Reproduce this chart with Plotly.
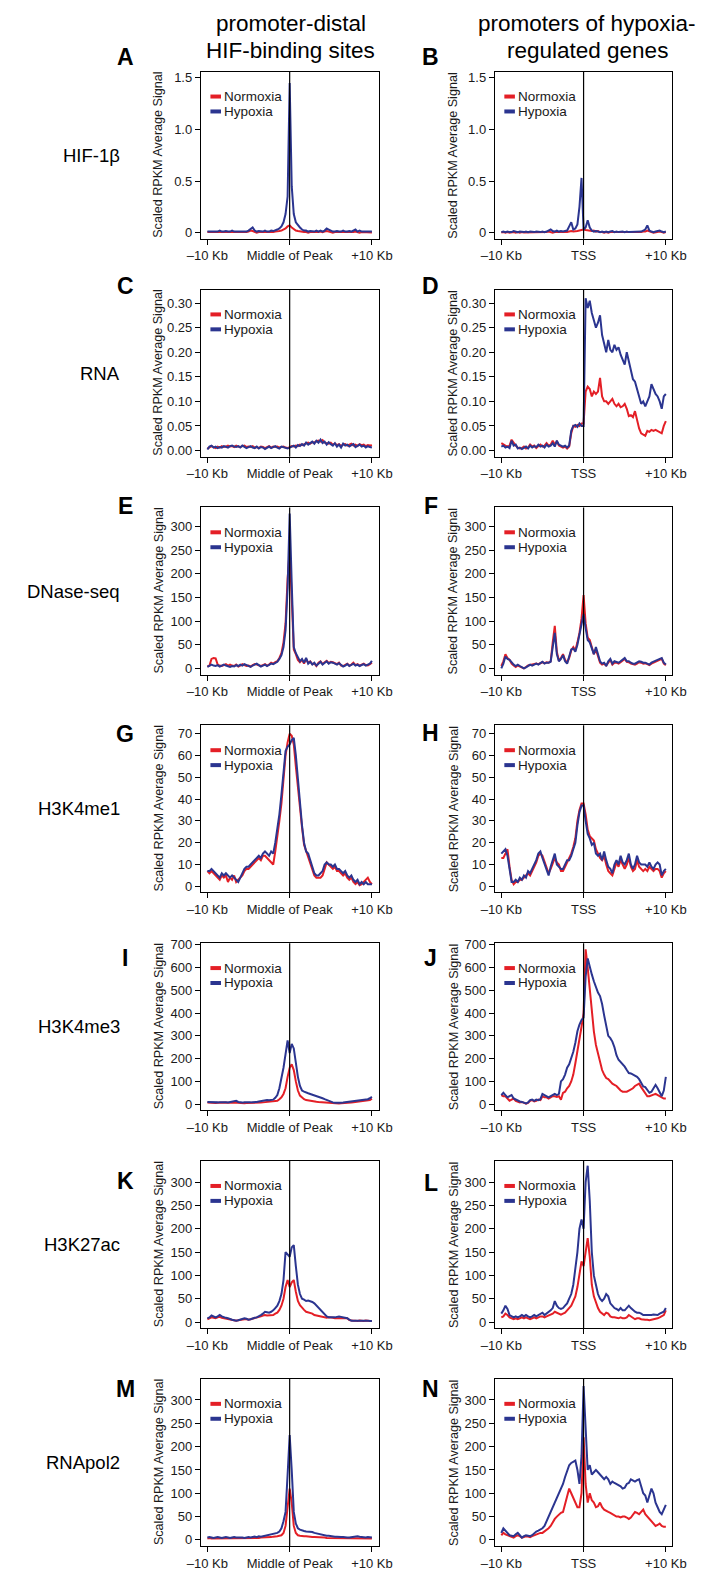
import plotly.graph_objects as go

# ---------------- data ----------------
X_KB = [-10 + 0.25 * i for i in range(81)]  # bin centres (Kb from centre)

A_NOR = [0.005,0.005,0.0,0.005,0.005,0.0,0.005,0.005,0.0,0.005,
         0.005,0.0,0.005,0.005,0.0,0.005,0.005,0.0,0.005,0.005,
         0.01,0.02,0.015,0.005,0.0,0.005,0.005,0.0,0.005,0.005,
         0.0,0.005,0.005,0.01,0.01,0.015,0.02,0.03,0.04,0.06,
         0.07,
         0.05,0.03,0.02,0.015,0.01,0.01,0.005,0.005,0.0,0.005,
         0.005,0.0,0.005,0.005,0.01,0.005,0.01,0.015,0.01,0.005,
         0.0,0.005,0.005,0.0,0.005,0.005,0.0,0.005,0.005,0.0,
         0.005,0.01,0.005,0.0,0.005,0.005,0.0,0.005,0.005,0.0]
A_HYP = [0.01,0.01,0.01,0.015,0.01,0.01,0.02,0.01,0.01,0.015,
         0.01,0.01,0.02,0.01,0.01,0.01,0.015,0.01,0.01,0.01,
         0.02,0.04,0.05,0.02,0.01,0.015,0.01,0.01,0.02,0.01,
         0.01,0.02,0.015,0.02,0.03,0.04,0.06,0.1,0.18,0.35,
         1.45,
         0.45,0.18,0.1,0.07,0.05,0.03,0.02,0.02,0.01,0.015,
         0.01,0.01,0.02,0.01,0.02,0.01,0.02,0.04,0.03,0.02,
         0.01,0.01,0.015,0.01,0.01,0.02,0.01,0.01,0.015,0.01,
         0.02,0.03,0.01,0.02,0.01,0.01,0.015,0.01,0.01,0.01]

B_NOR = [0.0,0.005,0.0,0.005,0.0,0.005,0.005,0.0,0.005,0.0,
         0.005,0.0,0.0,0.005,0.005,0.0,0.005,0.0,0.0,0.005,
         0.005,0.0,0.005,0.01,0.005,0.0,0.005,0.005,0.0,0.005,
         0.005,0.0,0.005,0.01,0.015,0.01,0.01,0.015,0.02,0.025,
         0.03,
         0.025,0.02,0.02,0.015,0.02,0.01,0.015,0.005,0.005,0.0,
         0.005,0.0,0.005,0.005,0.0,0.005,0.005,0.0,0.005,0.005,
         0.0,0.005,0.005,0.0,0.005,0.0,0.005,0.005,0.01,0.01,
         0.02,0.01,0.005,0.0,0.005,0.005,0.01,0.005,0.0,0.005]
B_HYP = [0.005,0.01,0.005,0.01,0.005,0.005,0.015,0.01,0.005,0.01,
         0.005,0.005,0.01,0.005,0.01,0.005,0.005,0.01,0.005,0.005,
         0.01,0.005,0.01,0.02,0.03,0.015,0.01,0.02,0.01,0.015,
         0.01,0.015,0.02,0.06,0.1,0.03,0.04,0.08,0.25,0.53,
         0.03,
         0.05,0.12,0.05,0.02,0.01,0.015,0.01,0.005,0.01,0.005,
         0.01,0.005,0.01,0.015,0.005,0.01,0.005,0.01,0.01,0.005,
         0.01,0.005,0.005,0.01,0.005,0.01,0.005,0.01,0.02,0.03,
         0.07,0.02,0.01,0.005,0.01,0.015,0.02,0.01,0.005,0.01]

C_NOR = [0.004,0.006,0.009,0.007,0.005,0.008,0.006,0.009,0.007,0.008,
         0.01,0.008,0.009,0.007,0.01,0.008,0.007,0.009,0.01,0.007,
         0.008,0.007,0.009,0.006,0.007,0.005,0.008,0.007,0.005,0.007,
         0.009,0.006,0.008,0.007,0.008,0.006,0.007,0.008,0.006,0.005,
         0.007,
         0.009,0.008,0.01,0.009,0.012,0.011,0.013,0.014,0.016,0.014,
         0.017,0.016,0.019,0.02,0.018,0.021,0.016,0.015,0.014,0.016,
         0.012,0.014,0.011,0.013,0.009,0.012,0.013,0.01,0.012,0.014,
         0.01,0.012,0.009,0.013,0.011,0.012,0.009,0.011,0.01,0.011]
C_HYP = [0.002,0.008,0.01,0.006,0.008,0.005,0.007,0.006,0.009,0.007,
         0.006,0.009,0.01,0.008,0.007,0.009,0.006,0.01,0.008,0.005,
         0.007,0.009,0.006,0.005,0.008,0.004,0.007,0.006,0.003,0.006,
         0.008,0.005,0.007,0.009,0.006,0.004,0.008,0.007,0.005,0.004,
         0.006,
         0.008,0.01,0.006,0.011,0.009,0.013,0.01,0.016,0.012,0.015,
         0.018,0.014,0.02,0.016,0.022,0.015,0.018,0.012,0.017,0.013,
         0.01,0.015,0.008,0.012,0.006,0.014,0.01,0.012,0.008,0.011,
         0.013,0.007,0.01,0.012,0.008,0.01,0.006,0.009,0.007,0.006]

D_NOR = [0.015,0.012,0.01,0.008,0.01,0.022,0.015,0.01,0.006,0.004,
         0.005,0.008,0.004,0.006,0.012,0.008,0.01,0.005,0.009,0.012,
         0.008,0.01,0.015,0.01,0.012,0.02,0.012,0.018,0.01,0.008,
         0.006,0.008,0.004,0.008,0.035,0.05,0.048,0.052,0.05,0.055,
         0.055,
         0.12,0.13,0.125,0.11,0.12,0.115,0.12,0.148,0.11,0.1,
         0.1,0.095,0.1,0.105,0.095,0.09,0.095,0.088,0.09,0.095,
         0.085,0.07,0.072,0.068,0.08,0.06,0.045,0.035,0.032,0.03,
         0.04,0.038,0.042,0.04,0.042,0.04,0.038,0.035,0.05,0.06]
D_HYP = [0.008,0.01,0.006,0.008,0.005,0.02,0.01,0.012,0.004,0.006,
         0.003,0.005,0.008,0.004,0.01,0.006,0.009,0.007,0.012,0.008,
         0.01,0.006,0.012,0.008,0.01,0.015,0.008,0.02,0.012,0.01,
         0.008,0.01,0.006,0.01,0.04,0.05,0.052,0.048,0.055,0.05,
         0.05,
         0.31,0.29,0.305,0.28,0.265,0.25,0.26,0.275,0.235,0.22,
         0.2,0.225,0.205,0.2,0.215,0.205,0.21,0.195,0.185,0.175,
         0.2,0.18,0.16,0.145,0.14,0.125,0.11,0.095,0.1,0.09,
         0.1,0.11,0.135,0.125,0.115,0.11,0.1,0.085,0.11,0.115]

E_NOR = [4,6,20,22,21,8,6,5,7,9,
         6,8,6,5,8,4,6,9,7,5,
         6,4,7,9,8,6,5,7,9,6,
         8,12,10,13,15,22,32,55,95,190,
         250,
         150,40,30,18,13,18,10,20,12,15,
         9,10,5,12,15,9,13,16,11,14,
         13,11,9,12,6,5,7,10,6,8,
         12,7,9,6,8,10,7,6,9,12]
E_HYP = [3,5,8,6,5,7,4,6,8,6,
         5,3,5,4,7,5,8,6,9,7,
         5,3,6,8,10,7,4,6,8,5,
         7,10,9,12,14,20,28,45,80,170,
         327,
         180,45,32,22,15,20,12,22,10,14,
         8,12,6,10,14,8,12,15,10,13,
         12,10,8,11,7,4,6,9,5,7,
         10,6,8,5,7,9,6,8,10,16]

F_NOR = [5,15,30,22,18,10,6,3,6,4,
         1,0,3,6,7,8,9,10,9,11,
         13,11,13,12,15,55,90,35,16,22,
         30,18,12,22,38,45,38,55,75,105,
         155,
         95,65,60,45,30,40,25,12,8,10,
         6,13,18,8,12,12,10,13,16,20,
         14,13,10,9,8,10,13,12,10,11,
         9,7,10,12,14,15,18,20,10,7]
F_HYP = [0,10,25,20,18,12,8,5,8,5,
         2,0,2,5,8,6,8,10,8,12,
         14,10,12,12,14,45,75,30,15,20,
         28,15,10,25,40,42,35,50,70,90,
         115,
         85,60,55,40,30,45,30,15,10,12,
         5,15,20,10,15,14,12,15,18,22,
         15,15,12,10,10,12,15,14,12,12,
         10,8,12,14,16,18,20,22,12,8]

G_NOR = [7,6,7,6,5,4,3,5,4,5,
         2,4,3,5,2,3,4,5,7,8,
         8,9,10,11,12,13,12,14,14,13,
         12,11,10,16,22,30,38,50,60,66,
         70,
         69,65,55,45,36,27,19,16,14,11,
         7,5,4,4,4,5,8,11,10,9,
         8,9,7,7,6,5,6,4,3,4,
         2,1,2,0.5,1,2,3,4,2,1]
G_HYP = [7,7,8,7,6,5,4,6,5,6,
         5,4,5,4,3,2,4,6,8,9,
         9,10,11,12,13,14,13,15,16,15,
         14,16,15,20,26,33,42,53,62,64,
         65,
         67,68,60,48,38,28,20,16,15,12,
         9,6,5,5,6,7,10,11,10,10,
         9,10,8,8,7,6,7,5,4,5,
         3,2,3,1,2,1,2,1,1,1]

H_NOR = [13,13,15,17,9,3,1,2,2,3,
         3,4,5,6,5,7,9,11,14,15,
         14,11,9,6,8,11,13,11,10,7,
         7,9,11,13,15,18,22,30,35,38,
         38,
         33,26,23,22,21,17,15,13,12,14,
         10,7,6,5,8,11,9,12,10,8,
         10,13,9,7,8,12,9,8,7,8,
         7,9,8,7,8,8,7,4,6,7]
H_HYP = [15,16,17,14,8,2,2,3,2,4,
         3,5,4,7,6,8,10,12,15,16,
         13,10,8,5,9,12,15,10,9,8,
         8,10,12,12,14,17,20,28,34,37,
         37,
         30,24,22,19,20,15,14,15,12,16,
         12,9,8,6,10,12,10,14,11,10,
         12,15,10,8,10,14,11,10,10,10,
         9,11,9,8,10,11,10,5,7,8]

I_NOR = [7,6,7,6,5,6,7,5,6,7,
         6,5,6,7,6,5,6,5,4,5,
         5,4,5,6,5,6,7,8,9,8,
         8,9,10,12,15,22,30,45,70,120,
         160,
         175,150,100,60,38,28,22,18,16,15,
         14,12,11,10,9,8,8,7,6,5,
         4,4,3,3,4,4,5,5,6,7,
         8,9,10,10,11,12,13,15,18,24]
I_HYP = [10,9,8,10,9,8,9,10,8,9,
         8,9,10,12,15,10,8,7,9,8,
         7,8,9,8,10,12,14,15,16,18,
         17,18,20,28,40,70,110,160,220,280,
         225,
         265,245,180,120,80,60,55,50,48,45,
         42,40,38,32,30,26,22,18,14,10,
         8,6,5,5,6,7,8,9,10,12,
         14,15,16,18,17,18,20,22,26,32]

J_NOR = [40,35,35,25,15,20,25,15,10,8,
         10,5,2,6,15,18,12,15,20,18,
         35,30,30,25,30,35,35,32,35,20,
         50,55,70,80,100,130,180,230,280,340,
         400,
         680,600,500,400,320,260,220,180,150,130,
         115,110,100,90,85,80,70,60,55,55,
         55,60,65,70,80,85,90,75,60,45,
         35,35,40,42,45,40,35,30,25,25]
J_HYP = [40,50,40,30,35,40,25,20,15,12,
         10,5,3,8,18,20,15,20,18,22,
         45,40,35,30,35,40,45,40,45,100,
         110,130,160,175,200,230,270,320,350,370,
         380,
         560,640,600,570,540,510,490,475,440,390,
         350,300,290,275,250,215,195,185,175,165,
         150,137,135,130,122,120,110,95,78,75,
         60,50,55,70,85,70,50,35,60,120]

K_NOR = [6,8,10,9,8,10,11,9,8,7,
         6,5,4,4,3,4,5,5,6,6,
         5,6,7,8,9,10,12,14,15,14,
         14,14,15,18,20,26,35,50,75,90,
         75,
         85,90,65,45,36,30,26,22,21,20,
         18,15,14,12,11,10,10,9,10,10,
         9,8,8,8,7,8,8,8,4,3,
         3,3,2,3,2,2,3,2,2,2]
K_HYP = [8,10,14,12,10,12,15,12,10,9,
         8,6,5,4,3,4,5,6,8,7,
         5,6,8,9,10,12,15,18,22,21,
         20,22,25,30,35,45,60,90,150,145,
         140,
         160,165,120,80,60,50,48,45,46,45,
         43,40,35,30,25,20,15,12,10,10,
         9,10,11,12,11,10,9,8,5,3,
         3,3,3,3,4,3,3,3,2,2]

L_NOR = [10,12,18,15,10,8,6,8,6,8,
         10,8,10,8,6,8,10,8,10,12,
         12,10,12,14,15,18,22,20,18,16,
         18,20,25,30,35,45,55,75,100,130,
         120,
         150,180,140,80,55,40,30,22,18,15,
         20,18,12,10,10,9,8,10,8,8,
         10,15,12,8,6,8,8,6,5,5,
         5,4,5,6,6,8,10,12,15,25]
L_HYP = [18,25,35,28,15,12,10,12,10,12,
         15,12,15,12,10,12,15,12,15,18,
         20,15,18,22,25,30,45,35,30,28,
         30,35,40,50,60,80,110,150,200,220,
         200,
         300,335,260,150,100,80,60,50,45,50,
         60,55,40,35,30,28,25,30,25,25,
         30,35,30,25,22,20,20,18,15,15,
         15,14,15,16,15,15,18,20,22,30]

M_NOR = [3,4,3,3,4,3,3,4,3,3,
         3,3,4,3,3,4,3,3,3,4,
         3,4,4,3,4,4,5,5,5,6,
         6,6,7,7,8,9,10,15,30,70,
         110,
         80,30,15,10,9,8,8,8,7,7,
         6,6,6,5,5,5,5,4,4,4,
         4,4,4,3,3,3,4,3,3,3,
         3,4,3,3,3,4,3,3,3,3]
M_HYP = [5,6,5,4,5,6,5,4,5,6,
         5,4,5,6,5,5,6,5,4,5,
         6,5,6,7,6,8,7,8,9,10,
         10,11,12,13,15,18,25,40,60,140,
         225,
         150,60,35,25,22,20,19,18,18,18,
         17,15,14,12,11,10,10,9,9,8,
         8,7,7,6,6,6,5,5,5,6,
         7,8,8,7,6,6,5,6,5,5]

N_NOR = [10,15,12,10,8,6,5,8,10,8,
         5,6,8,7,6,8,10,12,14,15,
         15,18,22,25,30,38,45,50,55,58,
         60,75,90,110,100,90,80,70,70,100,
         220,
         120,80,100,85,80,70,72,80,70,65,
         62,60,58,55,52,50,50,48,50,50,
         48,45,48,55,60,58,55,60,65,55,
         50,45,40,35,30,32,35,30,28,28]
N_HYP = [15,25,20,15,10,9,8,12,15,10,
         5,8,10,9,8,10,15,18,20,22,
         25,30,40,50,60,70,80,90,100,110,
         120,135,150,160,165,168,170,150,120,180,
         330,
         240,150,160,140,145,150,145,140,135,130,
         135,130,120,125,122,120,118,115,110,112,
         120,122,130,128,125,128,130,115,100,95,
         80,95,110,100,80,70,60,55,65,75]

PANEL_LETTERS = ["A", "B", "C", "D", "E", "F", "G", "H", "I", "J", "K", "L", "M", "N"]
ROW_LABELS = ["HIF-1β", "RNA", "DNase-seq", "H3K4me1", "H3K4me3", "H3K27ac", "RNApol2"]
COL_TITLES = [["promoter-distal", "HIF-binding sites"], ["promoters of hypoxia-", "regulated genes"]]
CENTER_LABELS = ["Middle of Peak", "TSS"]
SERIES_NAMES = ["Normoxia", "Hypoxia"]
X_TICKVALS = [-10, 0, 10]
Y_TICKS = [
    ([0, 0.5, 1.0, 1.5], ["0", "0.5", "1.0", "1.5"]),
    ([0, 0.05, 0.10, 0.15, 0.20, 0.25, 0.30], ["0.00", "0.05", "0.10", "0.15", "0.20", "0.25", "0.30"]),
    ([0, 50, 100, 150, 200, 250, 300], ["0", "50", "100", "150", "200", "250", "300"]),
    ([0, 10, 20, 30, 40, 50, 60, 70], ["0", "10", "20", "30", "40", "50", "60", "70"]),
    ([0, 100, 200, 300, 400, 500, 600, 700], ["0", "100", "200", "300", "400", "500", "600", "700"]),
    ([0, 50, 100, 150, 200, 250, 300], ["0", "50", "100", "150", "200", "250", "300"]),
    ([0, 50, 100, 150, 200, 250, 300], ["0", "50", "100", "150", "200", "250", "300"]),
]
PANEL_DATA = [(A_NOR, A_HYP), (B_NOR, B_HYP), (C_NOR, C_HYP), (D_NOR, D_HYP),
              (E_NOR, E_HYP), (F_NOR, F_HYP), (G_NOR, G_HYP), (H_NOR, H_HYP),
              (I_NOR, I_HYP), (J_NOR, J_HYP), (K_NOR, K_HYP), (L_NOR, L_HYP),
              (M_NOR, M_HYP), (N_NOR, N_HYP)]

# ---------------- layout ----------------
W, H = 709, 1571
FONT = "Liberation Sans, Arial, Helvetica, sans-serif"
RED = "#e41f26"
BLUE = "#2b3590"
Y_RANGES = [(-0.06, 1.56), (-0.0126, 0.3276), (-13.1, 340.1), (-2.8, 73.8),
            (-27, 707), (-13.3, 345), (-13.3, 345)]
X_RANGE = (-10.8, 10.8)
COL_LEFT = [194.5, 500.5]
COL_W = 185
ROW_TOP0, ROW_STEP, BOX_H = 66, 219, 168
LETTER_X = [116, 434]
LETTER_Y = [[51, 51], [281, 281], [503, 503], [732, 731], [957, 957], [1181, 1183], [1390, 1390]]
TITLE_X = [288, 597]
TITLE_Y = [18, 45]


def fx(p):
    return p / W


def fy(p):
    return 1 - p / H


fig = go.Figure()
shapes = []
annotations = []

for k, (nor, hyp) in enumerate(PANEL_DATA):
    assert len(nor) == 81 and len(hyp) == 81, k
    row, col = divmod(k, 2)
    n = k + 1
    xa = "x" if n == 1 else f"x{n}"
    ya = "y" if n == 1 else f"y{n}"
    top = ROW_TOP0 + ROW_STEP * row
    bottom = top + BOX_H
    left = COL_LEFT[col]
    right = left + COL_W
    fig.add_trace(go.Scatter(x=X_KB, y=nor, mode="lines", name=SERIES_NAMES[0],
                             line=dict(color=RED, width=2), xaxis=xa, yaxis=ya,
                             showlegend=False, hoverinfo="skip"))
    fig.add_trace(go.Scatter(x=X_KB, y=hyp, mode="lines", name=SERIES_NAMES[1],
                             line=dict(color=BLUE, width=2), xaxis=xa, yaxis=ya,
                             showlegend=False, hoverinfo="skip"))
    ax_common = dict(showline=True, mirror=True, linecolor="black", linewidth=1,
                     ticks="outside", ticklen=5, tickwidth=1, tickcolor="black",
                     showgrid=False, zeroline=False,
                     tickfont=dict(family=FONT, size=13, color="#1a1a1a"))
    tv, tt = Y_TICKS[row]
    fig.update_layout(**{
        ("xaxis" if n == 1 else f"xaxis{n}"): dict(
            domain=[fx(left), fx(right)], anchor=ya, range=list(X_RANGE),
            tickmode="array", tickvals=X_TICKVALS,
            ticktext=["–10 Kb", CENTER_LABELS[col], "+10 Kb"], **ax_common),
        ("yaxis" if n == 1 else f"yaxis{n}"): dict(
            domain=[fy(bottom), fy(top)], anchor=xa, range=list(Y_RANGES[row]),
            tickmode="array", tickvals=tv, ticktext=tt, **ax_common),
    })
    # vertical centre line
    shapes.append(dict(type="line", xref=xa, yref=f"{ya} domain", x0=0, x1=0, y0=0, y1=1,
                       line=dict(color="black", width=1.2)))
    # legend keys
    for j, (name, colr) in enumerate(zip(SERIES_NAMES, [RED, BLUE])):
        yk = top + 25 + 15 * j
        shapes.append(dict(type="line", xref="paper", yref="paper",
                           x0=fx(left + 10), x1=fx(left + 21), y0=fy(yk), y1=fy(yk),
                           line=dict(color=colr, width=4)))
        annotations.append(dict(x=fx(left + 22), y=fy(yk), xref="paper", yref="paper",
                                text=name, showarrow=False, xanchor="left", yanchor="middle",
                                font=dict(family=FONT, size=13.5, color="#1a1a1a")))
    # y-axis title
    annotations.append(dict(x=fx(left - 44 if col == 0 else left - 43), y=fy((top + bottom) / 2),
                            xref="paper", yref="paper", text="Scaled RPKM Average Signal",
                            textangle=-90, showarrow=False, xanchor="center", yanchor="middle",
                            font=dict(family=FONT, size=12.6, color="#1a1a1a")))
    # panel letter
    annotations.append(dict(x=fx(LETTER_X[col]), y=fy(LETTER_Y[row][col]), xref="paper", yref="paper",
                            text=f"<b>{PANEL_LETTERS[k]}</b>", showarrow=False,
                            xanchor="center", yanchor="middle",
                            font=dict(family=FONT, size=23, color="black")))

for r, lab in enumerate(ROW_LABELS):
    top = ROW_TOP0 + ROW_STEP * r
    annotations.append(dict(x=fx(112), y=fy(top + BOX_H / 2), xref="paper", yref="paper",
                            text=lab, showarrow=False, xanchor="right", yanchor="middle",
                            font=dict(family=FONT, size=18.5, color="black")))

for lines, cx in zip(COL_TITLES, TITLE_X):
    for line, cy in zip(lines, TITLE_Y):
        annotations.append(dict(x=fx(cx), y=fy(cy), xref="paper", yref="paper", text=line,
                                showarrow=False, xanchor="center", yanchor="middle",
                                font=dict(family=FONT, size=22.5, color="black")))

fig.update_layout(width=W, height=H, margin=dict(l=0, r=0, t=0, b=0),
                  paper_bgcolor="white", plot_bgcolor="white",
                  shapes=shapes, annotations=annotations, showlegend=False)

fig.write_html("out.html",
               config={"displayModeBar": False, "staticPlot": True},
               post_script="document.body.style.margin='0';document.body.style.padding='0';"
                           "document.body.style.overflow='hidden';")
